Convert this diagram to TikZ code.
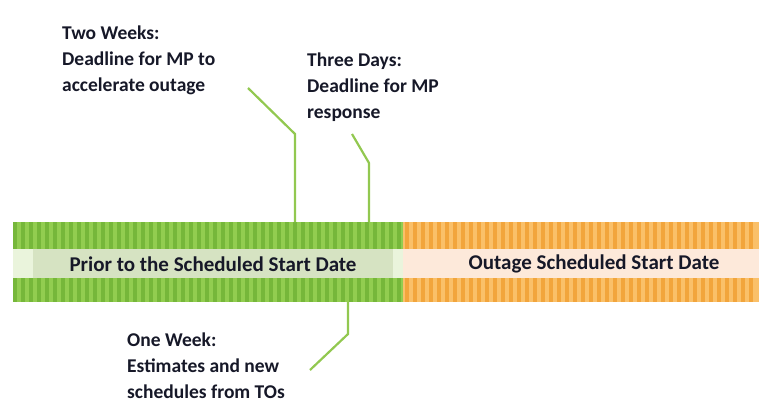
\documentclass[tikz,border=0pt]{standalone}
\usepackage{fontspec}
\setmainfont{Carlito}
\usepackage{xcolor}
\definecolor{grn1}{RGB}{146,205,80}
\definecolor{grn2}{RGB}{118,183,58}
\definecolor{grnpale}{RGB}{234,244,220}
\definecolor{grnmid}{RGB}{214,227,194}
\definecolor{org1}{RGB}{250,192,105}
\definecolor{org2}{RGB}{242,165,60}
\definecolor{orgpale}{RGB}{253,233,218}
\definecolor{leader}{RGB}{146,200,80}
\definecolor{ink}{RGB}{22,24,40}
\usepackage{tikz}
\usetikzlibrary{positioning, calc}
\tikzstyle{label} = [
    align=left, anchor=north west,
    inner sep=0pt,
    text=ink,
    font=\fontsize{19.5}{26}\selectfont\bfseries,
]
\tikzstyle{barlabel} = [
    text=ink,
    font=\fontsize{21}{24}\selectfont\bfseries,
]
\tikzstyle{line} = [leader, line width=2.2pt]

\begin{document}
\begin{tikzpicture}[x=1pt,y=-1pt]
    \useasboundingbox (0,0) rectangle (759,405);

    % bars
    \fill [grn1] (13,222) rectangle (403,302);
    \fill [org1] (403,222) rectangle (759,302);
    \foreach \x in {13,21,...,399} {
        \fill [grn2] (\x,222) rectangle (\x+4,302);
    }
    \foreach \x in {405,413,...,755} {
        \fill [org2] (\x,222) rectangle (\x+4,302);
    }
    \fill [grnpale] (13,249) rectangle (403,278);
    \fill [grnmid] (33,249) rectangle (393,278);
    \fill [orgpale] (403,249) rectangle (759,278);

    \node (prior) at (213,264) [barlabel] {Prior to the Scheduled Start Date};
    \node (outage) at (594,264) [barlabel] {Outage Scheduled Start Date};

    % labels
    \node (twoweeks) at (62,26) [label] {Two Weeks:\\Deadline for MP to\\accelerate outage};
    \node (threedays) at (307,53) [label] {Three Days:\\Deadline for MP\\response};
    \node (oneweek) at (127,333) [label] {One Week:\\Estimates and new\\schedules from TOs};

    % leaders
    \coordinate (tw) at (248,88);
    \coordinate (td) at (352,134);
    \coordinate (ow) at (310,370);
    \draw [line] (tw) -- (295,134) -- (295,222);
    \draw [line] (td) -- (369,163) -- (369,222);
    \draw [line] (348,302) -- (348,334) -- (ow);
\end{tikzpicture}
\end{document}
